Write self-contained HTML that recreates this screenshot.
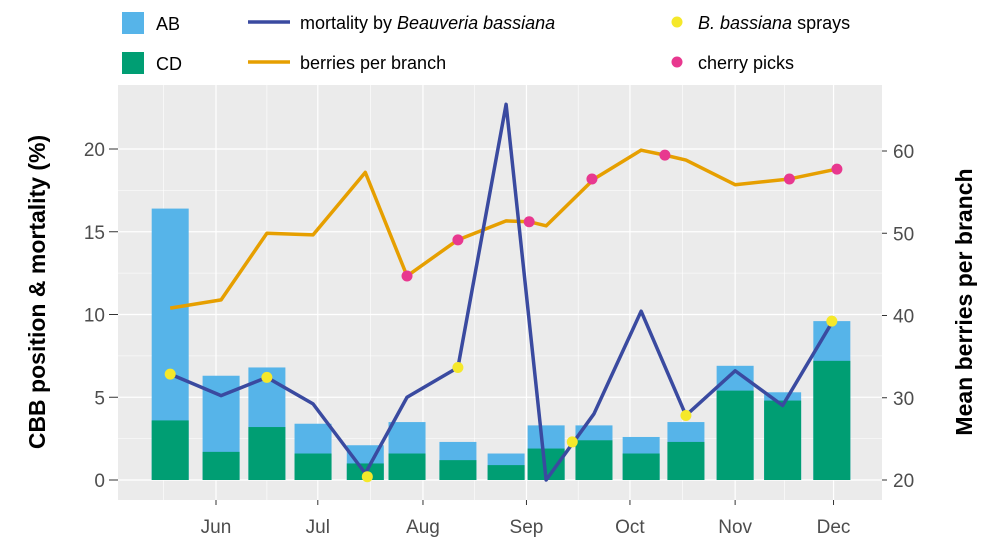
<!DOCTYPE html>
<html><head><meta charset="utf-8"><style>
body{margin:0;background:#fff;font-family:"Liberation Sans",Arial,sans-serif}
</style></head><body>
<svg id="c" width="1000" height="549" xmlns="http://www.w3.org/2000/svg"></svg>
<script>
// data (x = days since Jun 1)
const barDays=[-13.5,1.5,15,28.6,44,56.3,71.3,85.5,97.3,111.4,125.3,138.5,153,167,181.5];
const abTotal=[16.4,6.3,6.8,3.4,2.1,3.5,2.3,1.6,3.3,3.3,2.6,3.5,6.9,5.3,9.6];
const cdVals=[3.6,1.7,3.2,1.6,1.0,1.6,1.2,0.9,1.9,2.4,1.6,2.3,5.4,4.8,7.2];
const mortDays=[-13.5,1.5,15,28.6,44,56.3,71.3,85.5,97.3,111.4,125.3,138.5,153,167,181.5];
const mortVals=[6.4,5.1,6.2,4.6,0.4,5.0,6.8,22.7,0,4.0,10.2,3.9,6.6,4.5,9.5];
const berryDays=[-13.5,1.5,15,28.6,44,56.3,71.3,85.5,92.3,97.3,111.4,125.3,132.3,138.5,153,169,183];
const berryVals=[40.9,41.9,50,49.8,57.4,44.8,49.2,51.5,51.4,50.9,56.6,60.1,59.5,58.9,55.9,56.6,57.8];
const sprayDays=[-13.5,15,44.6,71.3,105,138.5,181.5];
const sprayVals=[6.4,6.2,0.2,6.8,2.3,3.9,9.6];
const pickDays=[56.3,71.3,92.3,110.8,132.3,169,183];
const pickVals=[44.8,49.2,51.4,56.6,59.5,56.6,57.8];
const leftTicks=[0,5,10,15,20];
const rightTicks=[20,30,40,50,60];
const monthLabels=["Jun","Jul","Aug","Sep","Oct","Nov","Dec"];
const monthDays=[0,30,61,91.5,122,153,182];

const NS="http://www.w3.org/2000/svg";
const svg=document.getElementById('c');
const L=118,R=882,T=85,B=500;
const x=d=>216+d*3.393;
const yL=v=>480-v*16.55;
const yR=v=>480-(v-20)*8.225;
function el(tag,attrs,parent){const e=document.createElementNS(NS,tag);for(const k in attrs)e.setAttribute(k,attrs[k]);(parent||svg).appendChild(e);return e;}

let p=el('rect',{x:L,y:T,width:R-L,height:B-T,fill:'#ebebeb'});


// minor grid
for(let i=0;i<leftTicks.length-1;i++){let g=el('line',{x1:L,x2:R,y1:yL(leftTicks[i]+2.5),y2:yL(leftTicks[i]+2.5),stroke:'#fff','stroke-width':0.6});}
for(let i=0;i<monthDays.length;i++){const md=i==0?monthDays[0]-15.5:(monthDays[i]+monthDays[i-1])/2;let g=el('line',{x1:x(md),x2:x(md),y1:T,y2:B,stroke:'#fff','stroke-width':0.6});}
{let md=monthDays[6]+15.5;let g=el('line',{x1:x(md),x2:x(md),y1:T,y2:B,stroke:'#fff','stroke-width':0.6});}
leftTicks.forEach(v=>{let g=el('line',{x1:L,x2:R,y1:yL(v),y2:yL(v),stroke:'#fff','stroke-width':1.2});
let t=el('text',{x:105,y:yL(v)+7,'text-anchor':'end','font-size':19,fill:'#4d4d4d'});t.textContent=v;
el('line',{x1:109,x2:L,y1:yL(v),y2:yL(v),stroke:'#333','stroke-width':1});});
rightTicks.forEach(v=>{let t=el('text',{x:893,y:yR(v)+7,'text-anchor':'start','font-size':19,fill:'#4d4d4d'});t.textContent=v;
el('line',{x1:R,x2:R+5,y1:yR(v),y2:yR(v),stroke:'#333','stroke-width':1});});
monthDays.forEach((d,i)=>{let g=el('line',{x1:x(d),x2:x(d),y1:T,y2:B,stroke:'#fff','stroke-width':1.2});
el('line',{x1:x(d),x2:x(d),y1:B,y2:B+5,stroke:'#333','stroke-width':1});
let t=el('text',{x:x(d),y:B+33,'text-anchor':'middle','font-size':19,fill:'#4d4d4d'});t.textContent=monthLabels[i];});
// bars
barDays.forEach((d,i)=>{const w=37;
let a=el('rect',{x:x(d)-w/2,y:yL(abTotal[i]),width:w,height:yL(0)-yL(abTotal[i]),fill:'#56b4e9'});
let c=el('rect',{x:x(d)-w/2,y:yL(cdVals[i]),width:w,height:yL(0)-yL(cdVals[i]),fill:'#009e73'});});
let bl=el('polyline',{points:berryDays.map((d,i)=>x(d)+','+yR(berryVals[i])).join(' '),fill:'none',stroke:'#e69f00','stroke-width':3.5,'stroke-linejoin':'round'});

let ml=el('polyline',{points:mortDays.map((d,i)=>x(d)+','+yL(mortVals[i])).join(' '),fill:'none',stroke:'#3a4aa0','stroke-width':3.5,'stroke-linejoin':'round'});

sprayDays.forEach((d,i)=>{let c=el('circle',{cx:x(d),cy:yL(sprayVals[i]),r:5.5,fill:'#f5e82a'});});
pickDays.forEach((d,i)=>{let c=el('circle',{cx:x(d),cy:yR(pickVals[i]),r:5.5,fill:'#e8388f'});});
// axis titles
let yt=el('text',{transform:'translate(45,292) rotate(-90)','text-anchor':'middle','font-size':23,'font-weight':'bold',fill:'#000'});yt.textContent='CBB position & mortality (%)';
let rt=el('text',{transform:'translate(972,302) rotate(-90)','text-anchor':'middle','font-size':23,'font-weight':'bold',fill:'#000'});rt.textContent='Mean berries per branch';
// legend
function leg(name,sw,label,lx,ly,italicPart,rest,first){
 const g=el('g',{});
 sw(g);
 const t=el('text',{x:lx,y:ly,'font-size':18,fill:'#000'},g);
 if(first){const s1=el('tspan',{'font-style':'italic'},t);s1.textContent=italicPart;const s2=el('tspan',{},t);s2.textContent=rest;}
 else if(italicPart){const s0=el('tspan',{},t);s0.textContent=label;const s1=el('tspan',{'font-style':'italic'},t);s1.textContent=italicPart;}
 else t.textContent=label;
}
leg('legend-ab',g=>el('rect',{x:122,y:12,width:22,height:22,fill:'#56b4e9'},g),'AB',156,30);
leg('legend-cd',g=>el('rect',{x:122,y:52,width:22,height:22,fill:'#009e73'},g),'CD',156,70);
leg('legend-mortality',g=>el('line',{x1:248,x2:290,y1:22,y2:22,stroke:'#3a4aa0','stroke-width':3.5},g),'mortality by ',300,29,'Beauveria bassiana');
leg('legend-berries',g=>el('line',{x1:248,x2:290,y1:62,y2:62,stroke:'#e69f00','stroke-width':3.5},g),'berries per branch',300,69);
leg('legend-sprays',g=>el('circle',{cx:677,cy:22,r:5.5,fill:'#f5e82a'},g),'',698,29,'B. bassiana',' sprays',true);
leg('legend-picks',g=>el('circle',{cx:677,cy:62,r:5.5,fill:'#e8388f'},g),'cherry picks',698,69);
</script>
</body></html>
